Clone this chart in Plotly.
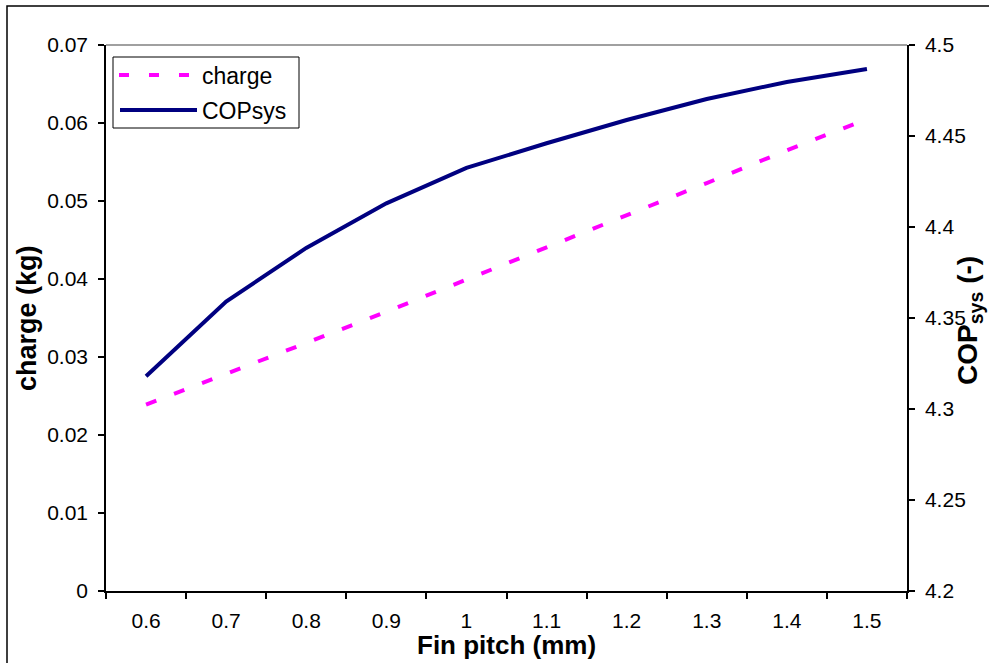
import plotly.graph_objects as go

fin_pitch = ["0.6", "0.7", "0.8", "0.9", "1", "1.1", "1.2", "1.3", "1.4", "1.5"]
charge = [0.0239, 0.0278, 0.0318, 0.0358, 0.0399, 0.0440, 0.0481, 0.0523, 0.0565, 0.0605]
cop_sys = [4.318, 4.359, 4.3885, 4.413, 4.4325, 4.446, 4.4588, 4.4703, 4.4797, 4.4868]
series_names = ["charge", "COPsys"]
series_colors = ["#FF00FF", "#000080"]

FONT = "Liberation Sans, Arial, sans-serif"
TICKFONT = 21
TITLEFONT = 27

# pixel -> paper helpers (plot area: x 106..907, y 45..591)
def px(x):
    return (x - 106) / 801.0

def py(y):
    return (591 - y) / 546.0

fig = go.Figure()
fig.add_trace(go.Scatter(
    x=fin_pitch, y=charge, name=series_names[0], mode="lines",
    line=dict(color=series_colors[0], width=4, dash="11px,19px"),
    yaxis="y", showlegend=False))
fig.add_trace(go.Scatter(
    x=fin_pitch, y=cop_sys, name=series_names[1], mode="lines",
    line=dict(color=series_colors[1], width=4),
    yaxis="y2", showlegend=False))

axis_common = dict(showline=True, linecolor="black", linewidth=1.5,
                   ticks="outside", ticklen=6, tickcolor="black", tickwidth=1.5,
                   showgrid=False, zeroline=False, automargin=False,
                   tickfont=dict(size=TICKFONT))

fig.update_layout(
    width=989, height=663,
    margin=dict(l=106, r=82, t=45, b=72, pad=0),
    paper_bgcolor="white", plot_bgcolor="white",
    font=dict(family=FONT, size=TICKFONT, color="black"),
    showlegend=False,
    xaxis=dict(type="category", tickson="boundaries", range=[-0.5, 9.5],
               ticklabelstandoff=10, **axis_common),
    yaxis=dict(range=[0, 0.07], dtick=0.01, ticklabelstandoff=6, **axis_common),
    yaxis2=dict(range=[4.2, 4.5], dtick=0.05, overlaying="y", side="right",
                ticklabelstandoff=6, **axis_common),
    shapes=[
        dict(type="line", xref="paper", yref="paper", x0=0, x1=1, y0=1, y1=1,
             line=dict(color="#808080", width=1.5)),
        dict(type="rect", xref="paper", yref="paper", x0=px(7), x1=px(1100), y0=py(700), y1=py(6),
             line=dict(color="black", width=1.5), layer="below"),
        # legend box
        dict(type="rect", xref="paper", yref="paper", x0=px(113), x1=px(299), y0=py(128), y1=py(57),
             line=dict(color="black", width=1), fillcolor="white"),
        dict(type="line", xref="paper", yref="paper", x0=px(119), x1=px(189), y0=py(75), y1=py(75),
             line=dict(color=series_colors[0], width=4, dash="10px,20px")),
        dict(type="line", xref="paper", yref="paper", x0=px(120), x1=px(197), y0=py(110), y1=py(110),
             line=dict(color=series_colors[1], width=4)),
    ],
    annotations=[
        dict(text=series_names[0], xref="paper", yref="paper", x=px(200), y=py(76),
             xanchor="left", yanchor="middle", showarrow=False, font=dict(size=23)),
        dict(text=series_names[1], xref="paper", yref="paper", x=px(200), y=py(111),
             xanchor="left", yanchor="middle", showarrow=False, font=dict(size=23)),
        dict(text="<b>Fin pitch (mm)</b>", xref="paper", yref="paper", x=px(506), y=py(645),
             xanchor="center", yanchor="middle", showarrow=False, font=dict(size=26)),
        dict(text="<b>charge (kg)</b>", xref="paper", yref="paper", x=px(27), y=py(318),
             xanchor="center", yanchor="middle", showarrow=False, textangle=-90,
             font=dict(size=TITLEFONT)),
        dict(text="<b>COP<sub>sys</sub> (-)</b>", xref="paper", yref="paper", x=px(969), y=py(321),
             xanchor="center", yanchor="middle", showarrow=False, textangle=-90,
             font=dict(size=28)),
    ],
)

fig.write_html("out.html", config={"displayModeBar": False},
               post_script="document.body.style.margin='0px';")
